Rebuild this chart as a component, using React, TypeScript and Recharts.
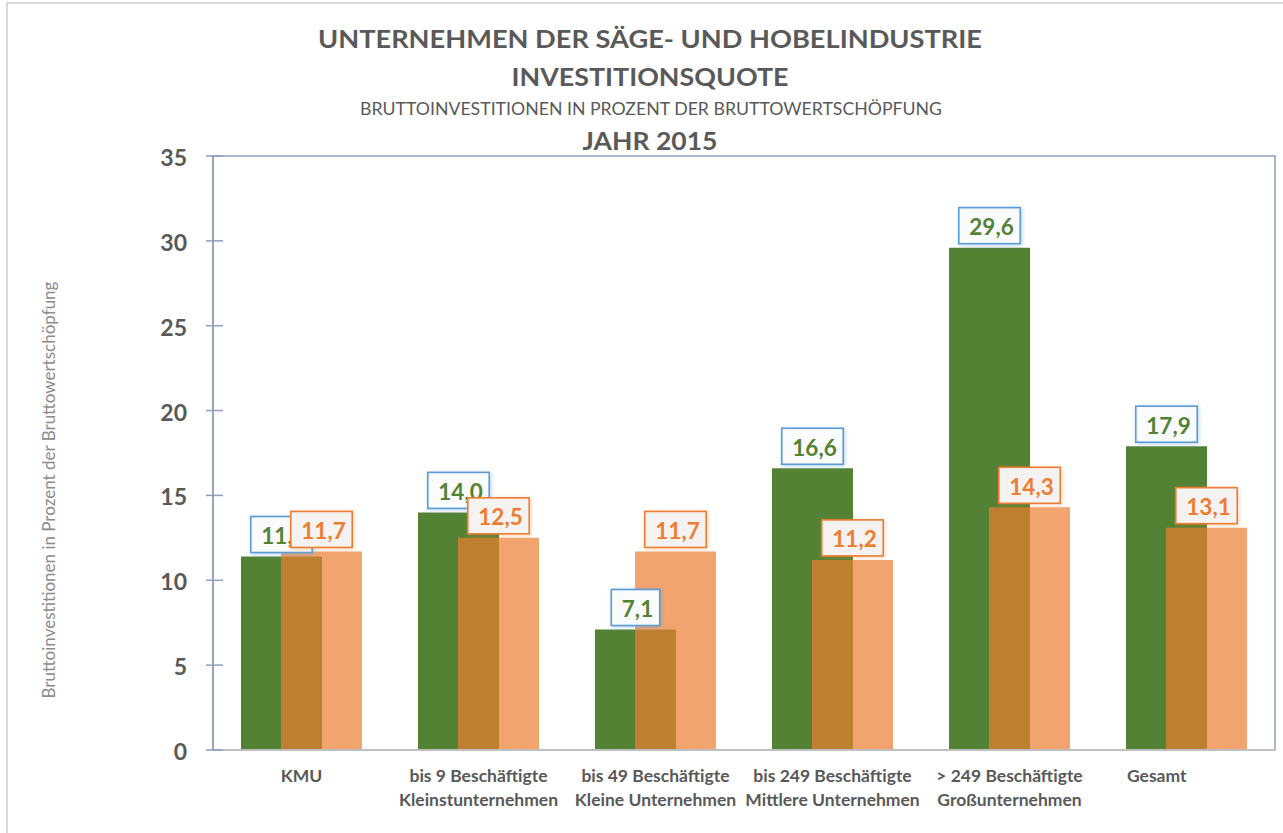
import React from "react";
import { BarChart, Bar, XAxis, YAxis, LabelList, ReferenceArea } from "recharts";

const NB = "\u00a0";

const categoryTop = [
  "KMU",
  "bis 9 Beschäftigte",
  "bis 49 Beschäftigte",
  "bis 249 Beschäftigte",
  "> 249 Beschäftigte",
  "Gesamt" + NB.repeat(14),
];
const categoryBottom = [
  "",
  "Kleinstunternehmen",
  "Kleine Unternehmen",
  "Mittlere Unternehmen",
  "Großunternehmen",
  "",
];
const greenValues = [11.4, 14.0, 7.1, 16.6, 29.6, 17.9];
const orangeValues = [11.7, 12.5, 11.7, 11.2, 14.3, 13.1];
const yTicks = [0, 5, 10, 15, 20, 25, 30, 35];

const data = categoryTop.map((c, i) => ({
  cat: c,
  sub: categoryBottom[i],
  green: greenValues[i],
  orange: orangeValues[i],
}));

const FONT = "Lato, 'Open Sans', sans-serif";
const GREY = "#595959";
const W = 1283;
const H = 833;
const MARGIN = { top: 156, right: 8, bottom: 0, left: 0 };

const fmt = (v: number) => v.toFixed(1).replace(".", ",");

let ctx: CanvasRenderingContext2D | null = null;
function textWidth(s: string, font: string) {
  if (!ctx && typeof document !== "undefined") ctx = document.createElement("canvas").getContext("2d");
  if (!ctx) return s.length * 11;
  ctx.font = font;
  return ctx.measureText(s).width;
}

function XTick(props: any) {
  const { x, y, payload, index } = props;
  return (
    <g>
      <text x={x} y={y + 32} textAnchor="middle" fill={GREY} fontFamily={FONT} fontWeight={700} fontSize={17.5}>
        {payload.value}
      </text>
      <text x={x} y={y + 56} textAnchor="middle" fill={GREY} fontFamily={FONT} fontWeight={700} fontSize={17.5}>
        {categoryBottom[index]}
      </text>
    </g>
  );
}

function YTick(props: any) {
  const { x, y, payload } = props;
  return (
    <g>
      <line x1={x - 7} x2={x + 10} y1={y} y2={y} stroke="#8EA1BD" strokeWidth={1.5} />
      <text x={x - 26} y={y + 1} textAnchor="end" dominantBaseline="central" fill={GREY} fontFamily={FONT} fontWeight={700} fontSize={23}>
        {payload.value}
      </text>
    </g>
  );
}

function YLabel(props: any) {
  const { viewBox } = props;
  const cx = 48;
  const cy = viewBox.y + viewBox.height / 2 + 37;
  return (
    <text
      x={cx}
      y={cy}
      transform={`rotate(-90, ${cx}, ${cy})`}
      textAnchor="middle"
      dominantBaseline="central"
      fill="#8c8c8c"
      fontFamily={FONT}
      fontSize={17}
    >
      Bruttoinvestitionen in Prozent der Bruttowertschöpfung
    </text>
  );
}

function makeBox(border: string, color: string, bg: string, filterId: string) {
  return function ValueBox(props: any) {
    const { x, y, width, value } = props;
    const text = fmt(Number(value));
    const font = `700 22.5px ${FONT}`;
    const tw = textWidth(text, font);
    const bw = tw + 17;
    const bh = 36;
    const cx = x + width / 2;
    const bx = cx - bw / 2;
    const by = y - 4 - bh;
    return (
      <g>
        <rect x={bx} y={by} width={bw} height={bh} fill={bg} stroke={border} strokeWidth={1.6} filter={`url(#${filterId})`} />
        <text x={cx + 2} y={by + bh / 2 + 1} textAnchor="middle" dominantBaseline="central" fill={color} fontFamily={FONT} fontWeight={700} fontSize={22.5}>
          {text}
        </text>
      </g>
    );
  };
}

const GreenBox = makeBox("#5B9BD5", "#548235", "#FAFBFC", "blueGlow");
const OrangeBox = makeBox("#ED7D31", "#ED7D31", "#F4F3F1", "orangeGlow");

export default function App() {
  return (
    <div style={{ position: "absolute", left: 0, top: 0, width: W, height: H, overflow: "hidden", background: "#fff", fontFamily: FONT }}>
      <div style={{ position: "absolute", left: 6, top: 2, width: 1400, height: 1000, border: "2px solid #D9D9D9" }} />

      <svg width={W} height={H} style={{ position: "absolute", left: 0, top: 0 }}>
        <text x={650} y={48} textAnchor="middle" fill={GREY} fontFamily={FONT} fontWeight={700} fontSize={25} textLength={664} lengthAdjust="spacingAndGlyphs">
          UNTERNEHMEN DER SÄGE- UND HOBELINDUSTRIE
        </text>
        <text x={650} y={86} textAnchor="middle" fill={GREY} fontFamily={FONT} fontWeight={700} fontSize={25} textLength={277} lengthAdjust="spacingAndGlyphs">
          INVESTITIONSQUOTE
        </text>
        <text x={651} y={115} textAnchor="middle" fill={GREY} fontFamily={FONT} fontSize={17} textLength={582} lengthAdjust="spacingAndGlyphs">
          BRUTTOINVESTITIONEN IN PROZENT DER BRUTTOWERTSCHÖPFUNG
        </text>
        <text x={650} y={150} textAnchor="middle" fill={GREY} fontFamily={FONT} fontWeight={700} fontSize={24} textLength={135} lengthAdjust="spacingAndGlyphs">
          JAHR 2015
        </text>
      </svg>

      <div style={{ position: "absolute", left: 0, top: 0 }}>
        <BarChart width={W} height={H} data={data} margin={MARGIN} barSize={81} barGap={-41}>
          <ReferenceArea y1={0} y2={35} fill="none" stroke="#8EA1BD" strokeWidth={1.5} ifOverflow="visible" />
          <XAxis
            dataKey="cat"
            height={83}
            interval={0}
            tickSize={0}
            tickMargin={0}
            tickLine={false}
            axisLine={{ stroke: "#BFBFBF", strokeWidth: 2 }}
            tick={<XTick />}
          />
          <YAxis
            width={213}
            domain={[0, 35]}
            ticks={yTicks}
            tickSize={0}
            tickMargin={0}
            tickLine={false}
            axisLine={{ stroke: "#8EA1BD", strokeWidth: 1.5 }}
            tick={<YTick />}
            label={{ content: YLabel }}
          />
          <Bar dataKey="green" fill="#548235" isAnimationActive={false} />
          <Bar dataKey="orange" fill="#ED7D31" fillOpacity={0.7} isAnimationActive={false} />
        </BarChart>
      </div>

      <div style={{ position: "absolute", left: 0, top: 0 }}>
        <BarChart width={W} height={H} data={data} margin={MARGIN} barSize={81} barGap={-41}>
          <defs>
            <filter id="blueGlow" x="-30%" y="-30%" width="160%" height="160%">
              <feDropShadow dx="1" dy="1" stdDeviation="2" floodColor="#5B9BD5" floodOpacity="0.45" />
            </filter>
            <filter id="orangeGlow" x="-30%" y="-30%" width="160%" height="160%">
              <feDropShadow dx="1" dy="1" stdDeviation="2" floodColor="#ED7D31" floodOpacity="0.35" />
            </filter>
          </defs>
          <XAxis dataKey="cat" height={83} interval={0} tick={false} tickLine={false} axisLine={false} />
          <YAxis width={213} domain={[0, 35]} ticks={yTicks} tick={false} tickLine={false} axisLine={false} />
          <Bar dataKey="green" fill="transparent" isAnimationActive={false}>
            <LabelList dataKey="green" content={GreenBox} />
          </Bar>
          <Bar dataKey="orange" fill="transparent" isAnimationActive={false}>
            <LabelList dataKey="orange" content={OrangeBox} />
          </Bar>
        </BarChart>
      </div>
    </div>
  );
}
